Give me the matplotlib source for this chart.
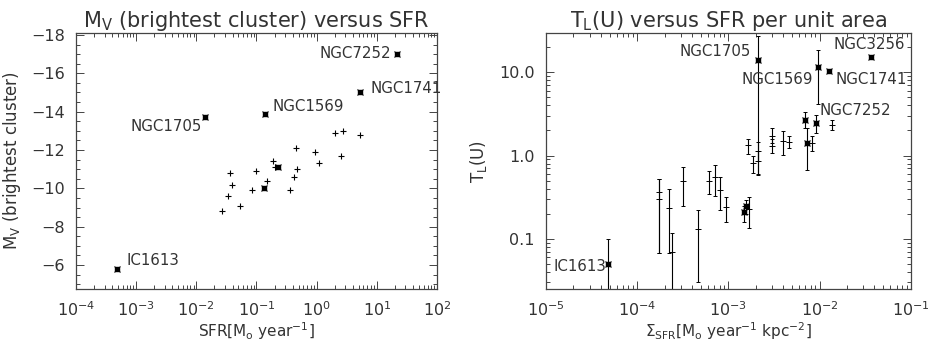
import numpy as np
import matplotlib
matplotlib.use("Agg")
import matplotlib.pyplot as plt
from matplotlib.ticker import (MultipleLocator, FixedLocator, FixedFormatter, LogLocator,
                               NullFormatter, LogFormatterSciNotation)

plt.rcParams['font.family'] = ['DejaVu Sans']
plt.rcParams['mathtext.default'] = 'regular'

INK = '#333333'

# ---- left panel: Mv of brightest cluster vs SFR
sfr_plus = [0.0268, 0.0337, 0.036, 0.0388, 0.0528, 0.0836, 0.10, 0.151, 0.19, 0.207,
            0.36, 0.425, 0.458, 0.47, 0.95, 1.09, 2.02, 2.51, 2.78, 5.2]
mv_plus = [-8.8, -9.6, -10.8, -10.2, -9.1, -9.9, -10.9, -10.4, -11.4, -11.1,
           -9.9, -10.6, -12.1, -11.0, -11.9, -11.3, -12.9, -11.7, -13.0, -12.8]
sfr_star = [4.8e-4, 0.0139, 0.141, 21.5, 5.3, 0.132, 0.23]
mv_star = [-5.8, -13.7, -13.9, -17.0, -15.0, -10.0, -11.1]
names_left = ['IC1613', 'NGC1705', 'NGC1569', 'NGC7252', 'NGC1741', '', '']
left_decades = [1e-4, 1e-3, 1e-2, 1e-1, 1e0, 1e1, 1e2]
# label offsets in pixels, alignment
lab_left = {'IC1613': (10, 8, 'left'), 'NGC1705': (-3, -9, 'right'),
            'NGC1569': (7, 7, 'left'), 'NGC7252': (-6, 1, 'right'),
            'NGC1741': (10, 4, 'left')}

# ---- right panel: TL(U) vs SFR per unit area
sig_plus = [1.75e-4, 1.75e-4, 2.25e-4, 2.4e-4, 3.15e-4, 4.7e-4, 6.1e-4, 7.1e-4, 8.1e-4,
            9.5e-4, 1.67e-3, 1.63e-3, 1.85e-3, 2.13e-3, 2.13e-3, 3.0e-3, 3.0e-3,
            3.95e-3, 4.6e-3, 8.2e-3, 0.0136]
tl_plus = [0.37, 0.30, 0.235, 0.069, 0.49, 0.13, 0.50, 0.55, 0.39,
           0.24, 0.23, 1.33, 0.82, 1.15, 0.85, 1.74, 1.29,
           1.49, 1.45, 1.40, 2.36]
tl_plus_lo = [0.068, 0.068, 0.068, 0.01, 0.25, 0.03, 0.35, 0.325, 0.22,
              0.158, 0.135, 1.05, 0.62, 0.85, 0.60, 1.40, 1.06,
              1.03, 1.24, 1.13, 2.05]
tl_plus_hi = [0.52, 0.52, 0.40, 0.118, 0.73, 0.225, 0.65, 0.77, 0.55,
              0.316, 0.32, 1.58, 0.98, 1.45, 1.15, 2.15, 1.60,
              1.96, 1.70, 1.70, 2.70]

sig_star = [4.8e-5, 1.49e-3, 1.56e-3, 2.13e-3, 6.9e-3, 7.2e-3, 9.1e-3, 9.55e-3, 0.0127, 0.0364]
tl_star = [0.05, 0.21, 0.246, 14.1, 2.7, 1.42, 2.47, 11.5, 10.3, 15.3]
tl_star_lo = [0.01, 0.16, 0.20, 0.59, 2.15, 0.67, 1.87, 4.2, 10.3, 15.3]
tl_star_hi = [0.10, 0.25, 0.29, 27.5, 3.3, 2.15, 3.1, 18.7, 10.3, 15.3]
names_right = ['IC1613', '', '', 'NGC1705', '', '', 'NGC7252', 'NGC1569', 'NGC1741', 'NGC3256']
right_decades = [1e-5, 1e-4, 1e-3, 1e-2, 1e-1]
tl_ticks = [0.1, 1.0, 10.0]
tl_ticklabels = ['0.1', '1.0', '10.0']
lab_right = {'IC1613': (-2, -3, 'right'), 'NGC1705': (-7, 8, 'right'),
             'NGC1569': (-5, -12, 'right'), 'NGC3256': (-1, 12, 'center'),
             'NGC1741': (7, -8, 'left'), 'NGC7252': (4, 12, 'left')}

fig = plt.figure(figsize=(9.35, 3.48), dpi=100)
ax1 = fig.add_axes([0.0813, 0.1695, 0.386, 0.7356])
ax2 = fig.add_axes([0.584, 0.1695, 0.390, 0.7356])


def style(ax):
    for s in ax.spines.values():
        s.set_color('#444444')
        s.set_linewidth(0.9)
    ax.tick_params(which='both', direction='in', top=True, right=True,
                   colors='#444444', labelcolor=INK, labelsize=11.5, width=0.7)
    ax.tick_params(which='major', length=6, pad=8)
    ax.tick_params(which='minor', length=3)


def log_x(ax, decades):
    ax.set_xscale('log')
    ax.set_xlim(decades[0], decades[-1])
    ax.xaxis.set_major_locator(FixedLocator(decades))
    ax.xaxis.set_major_formatter(LogFormatterSciNotation())
    minors = [d * s for d in decades[:-1] for s in range(2, 10)]
    ax.xaxis.set_minor_locator(FixedLocator(minors))
    ax.xaxis.set_minor_formatter(NullFormatter())


def stars(ax, x, y):
    ax.plot(x, y, 'x', color='k', ms=4.5, mew=0.8, ls='none')
    ax.plot(x, y, 's', color='k', ms=2.5, ls='none')


# left
ax1.plot(sfr_plus, mv_plus, '+', color='k', ms=5, mew=0.8, ls='none')
stars(ax1, sfr_star, mv_star)
for x, y, n in zip(sfr_star, mv_star, names_left):
    if n:
        dx, dy, ha = lab_left[n]
        ax1.annotate(n, (x, y), xytext=(dx, dy), textcoords='offset pixels',
                     ha=ha, va='center', fontsize=10.8, color=INK)
log_x(ax1, left_decades)
ax1.set_ylim(-4.75, -18.1)
ax1.yaxis.set_major_locator(FixedLocator([-18, -16, -14, -12, -10, -8, -6]))
ax1.yaxis.set_minor_locator(MultipleLocator(0.5))
style(ax1)
ax1.set_title(r'M$_V$ (brightest cluster) versus SFR', fontsize=15, color=INK, pad=3)
ax1.set_xlabel(r'SFR[M$_o$ year$^{-1}$]', fontsize=11, color=INK, labelpad=1)
ax1.set_ylabel(r'M$_V$ (brightest cluster)', fontsize=12, color=INK)
ax1.yaxis.set_label_coords(-0.148, 0.5)

# right
ax2.errorbar(sig_plus, tl_plus,
             yerr=[np.array(tl_plus) - np.array(tl_plus_lo), np.array(tl_plus_hi) - np.array(tl_plus)],
             fmt='+', color='k', ms=4, mew=0.7, elinewidth=0.8, capsize=1.5, capthick=0.7)
ax2.errorbar(sig_star, tl_star,
             yerr=[np.array(tl_star) - np.array(tl_star_lo), np.array(tl_star_hi) - np.array(tl_star)],
             fmt='none', ecolor='k', elinewidth=0.8, capsize=1.5, capthick=0.7)
stars(ax2, sig_star, tl_star)
for x, y, n in zip(sig_star, tl_star, names_right):
    if n:
        dx, dy, ha = lab_right[n]
        ax2.annotate(n, (x, y), xytext=(dx, dy), textcoords='offset pixels',
                     ha=ha, va='center', fontsize=10.8, color=INK)
log_x(ax2, right_decades)
ax2.set_yscale('log')
ax2.set_ylim(0.025, 29.6)
ax2.yaxis.set_major_locator(FixedLocator(tl_ticks))
ax2.yaxis.set_major_formatter(FixedFormatter(tl_ticklabels))
ax2.yaxis.set_minor_locator(LogLocator(base=10, subs=np.arange(2, 10), numticks=20))
ax2.yaxis.set_minor_formatter(NullFormatter())
style(ax2)
ax2.set_title(r'T$_L$(U) versus SFR per unit area', fontsize=15, color=INK, pad=3)
ax2.set_xlabel(r'$\Sigma_{SFR}$[M$_o$ year$^{-1}$ kpc$^{-2}$]', fontsize=11, color=INK, labelpad=1)
ax2.set_ylabel(r'T$_L$(U)', fontsize=12, color=INK)
ax2.yaxis.set_label_coords(-0.156, 0.5)

fig.savefig('out.png', dpi=100)
